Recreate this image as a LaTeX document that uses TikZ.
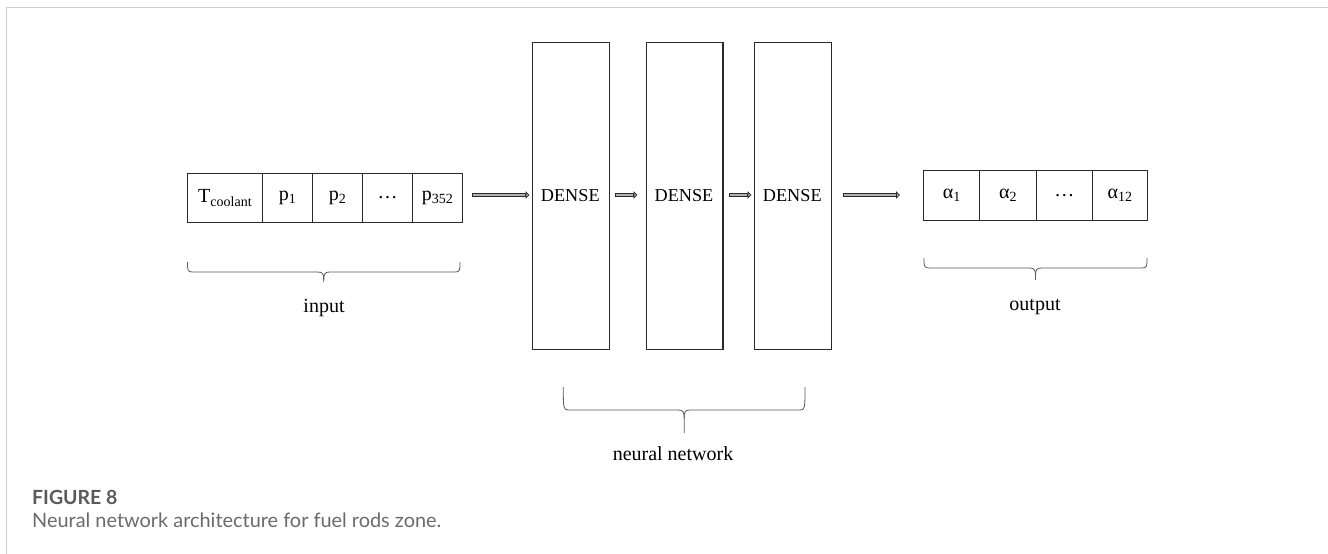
\documentclass[tikz,border=0pt]{standalone}
\usepackage{fontspec}
\setmainfont{Liberation Serif}
\newfontfamily\capfont{Lato}
\usetikzlibrary{arrows.meta}
\definecolor{framegray}{HTML}{CCCCCC}
\definecolor{capgray}{HTML}{5A5A5A}
\definecolor{linegray}{HTML}{2A2A2A}
\tikzset{
  cell/.style={draw=linegray, line width=1.1pt, minimum height=49.5pt, inner sep=0pt, font=\fontsize{20}{22}\selectfont, anchor=north west},
  densebox/.style={draw=linegray, line width=1.1pt, minimum width=76.7pt, minimum height=307.6pt, inner sep=0pt, anchor=north west},
  dlabel/.style={font=\fontsize{18.2}{22}\selectfont, inner sep=0pt},
  shaftout/.style={draw=linegray, line width=3.6pt},
  shaftin/.style={draw=gray!60, line width=1.4pt, shorten <=1pt, shorten >=0.5pt},
  tipst/.style={draw=linegray, line width=0.8pt, -{Triangle[length=4pt, width=7.5pt, fill=gray!60]}},
  brace/.style={draw=black!65, line width=0.8pt},
  blabel/.style={font=\fontsize{20}{22}\selectfont, inner sep=0pt},
}
\newcommand{\bracepath}[5]{% left right top horiz tip
  \draw[brace] (#1,#3) .. controls (#1,#4-2) and (#1,#4) .. (#1+5,#4)
    -- ({(#1+#2)/2-6},#4) .. controls ({(#1+#2)/2-1},#4) and ({(#1+#2)/2},#4+2) .. ({(#1+#2)/2},#4+8)
    -- ({(#1+#2)/2},#5);
  \draw[brace] (#2,#3) .. controls (#2,#4-2) and (#2,#4) .. (#2-5,#4)
    -- ({(#1+#2)/2+6},#4) .. controls ({(#1+#2)/2+1},#4) and ({(#1+#2)/2},#4+2) .. ({(#1+#2)/2},#4+8);
}
\begin{document}
\begin{tikzpicture}[x=1pt,y=-1pt]
\useasboundingbox (0,0) rectangle (1328,554);
\fill[white] (0,0) rectangle (1328,554);
% frame
\draw[framegray, line width=1.5pt] (6.5,554) -- (6.5,7.5) -- (1328,7.5);

% input cells
\node[cell, minimum width=74.7pt] (tc) at (187.3,172.7) {T\textsubscript{coolant}};
\node[cell, minimum width=50pt] (p1) at (262,172.7) {p\textsubscript{1}};
\node[cell, minimum width=50pt] (p2) at (312,172.7) {p\textsubscript{2}};
\node[cell, minimum width=50pt] (pd) at (362,172.7) {…};
\node[cell, minimum width=50pt] (p352) at (412,172.7) {p\textsubscript{352}};

% dense boxes
\node[densebox] (d1) at (532,41.7) {};
\node[densebox] (d2) at (645.7,41.7) {};
\node[densebox] (d3) at (754,41.7) {};
\node[dlabel] (l1) at (570.3,196) {DENSE};
\node[dlabel] (l2) at (684,196) {DENSE};
\node[dlabel] (l3) at (792.3,196) {DENSE};

% output cells
\node[cell, minimum width=56pt] (a1) at (923.3,170) {α\textsubscript{1}};
\node[cell, minimum width=56.4pt] (a2) at (979.3,170) {α\textsubscript{2}};
\node[cell, minimum width=56pt] (ad) at (1035.7,170) {…};
\node[cell, minimum width=55.6pt] (a12) at (1091.7,170) {α\textsubscript{12}};

% arrows: shaft start s, shaft end m, tip e
\coordinate (s0) at (471.7,195); \coordinate (m0) at (525.5,195); \coordinate (e0) at (529.5,195);
\coordinate (s1) at (615,195);   \coordinate (m1) at (633.5,195); \coordinate (e1) at (637.5,195);
\coordinate (s2) at (729,195);   \coordinate (m2) at (747.5,195); \coordinate (e2) at (751.5,195);
\coordinate (s3) at (842.7,195); \coordinate (m3) at (896,195); \coordinate (e3) at (900,195);
\foreach \i in {0,1,2,3}{
  \draw[shaftout] (s\i) -- (m\i);
  \draw[shaftin] (s\i) -- (m\i);
  \draw[tipst] (m\i) -- (e\i);
}

% braces
\bracepath{187.5}{460}{262}{272}{282}
\bracepath{924}{1147}{258}{268}{280}
\bracepath{563.3}{805}{387}{410}{433}
\node[blabel] (inl) at (324,308) {input};
\node[blabel] (outl) at (1035,306.5) {output};
\node[blabel] (nnl) at (673,454) {neural network};

% caption
\node[anchor=west, inner sep=0pt, text=capgray, font=\capfont\bfseries\fontsize{19.5}{22}\selectfont] (fig) at (32,497) {FIGURE 8};
\node[anchor=west, inner sep=0pt, text=capgray!90, font=\capfont\fontsize{19.9}{22}\selectfont] (cap) at (32,520) {Neural network architecture for fuel rods zone.};
\end{tikzpicture}
\end{document}
